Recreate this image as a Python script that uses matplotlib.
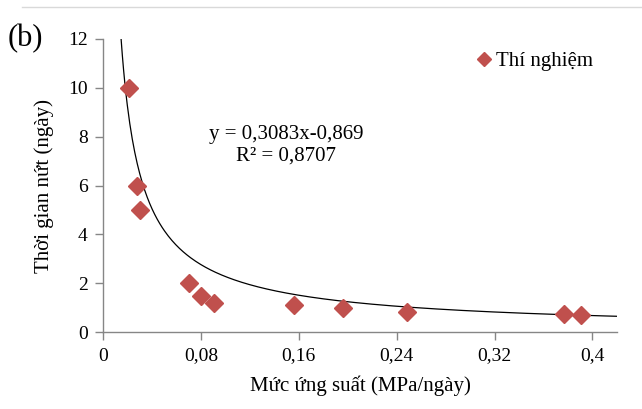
import matplotlib.pyplot as plt
import numpy as np

# measured points: loading rate (MPa/day) vs cracking time (days)
rate = [0.021, 0.0275, 0.030, 0.070, 0.0805, 0.0905, 0.1565, 0.1965, 0.2485, 0.3765, 0.3905]
crack_days = [10.0, 6.0, 5.0, 2.0, 1.5, 1.2, 1.1, 1.0, 0.84, 0.75, 0.71]

# power-law fit y = a * x^b
fit_a = 0.3083
fit_b = -0.869
fit_r2 = 0.8707

xticks = [0, 0.08, 0.16, 0.24, 0.32, 0.4]
xtick_labels = ["0", "0,08", "0,16", "0,24", "0,32", "0,4"]
yticks = [0, 2, 4, 6, 8, 10, 12]

plt.rcParams['font.family'] = ['Liberation Serif', 'DejaVu Serif']

fig = plt.figure(figsize=(6.42, 4.09), dpi=100)
ax = fig.add_axes([0.1604, 0.1875, 0.8006, 0.7179])

# fitted curve
xs = np.linspace(0.0148, 0.42, 400)
ax.plot(xs, fit_a * xs ** fit_b, color='black', lw=0.9, zorder=2)

ax.plot(rate, crack_days, 'D', color='#C0504D', ms=9.5, mec='#C0504D',
	linestyle='none', label='Thí nghiệm', zorder=3)

ax.set_xlim(0, 0.42)
ax.set_ylim(0, 12)
ax.set_xticks(xticks)
ax.set_xticklabels(xtick_labels)
ax.set_yticks(yticks)
ax.tick_params(labelsize=14, color='#868686', length=6, width=1, pad=5)
for side in ['top', 'right']:
	ax.spines[side].set_visible(False)
for side in ['left', 'bottom']:
	ax.spines[side].set_color('#868686')
	ax.spines[side].set_linewidth(1)

ax.set_xlabel('Mức ứng suất (MPa/ngày)', fontsize=15, labelpad=8)
ax.set_ylabel('Thời gian nứt (ngày)', fontsize=15, labelpad=10)

eq_text = 'y = %sx%s\nR² = %s' % (str(fit_a).replace('.', ','),
	str(fit_b).replace('.', ','), str(fit_r2).replace('.', ','))
ax.text(0.1495, 7.65, eq_text, fontsize=15, ha='center', va='center',
	linespacing=1.2)

leg = ax.legend(loc='upper right', bbox_to_anchor=(0.99, 1.02), frameon=False,
	fontsize=15, handlelength=0.8, handletextpad=0.2, markerscale=0.75)

fig.text(0.012, 0.905, '(b)', fontsize=22, va='center')
fig.add_artist(plt.Line2D([0.035, 1.0], [0.983, 0.983], color='#d9d9d9', lw=1))

fig.savefig('out.png', dpi=100)
